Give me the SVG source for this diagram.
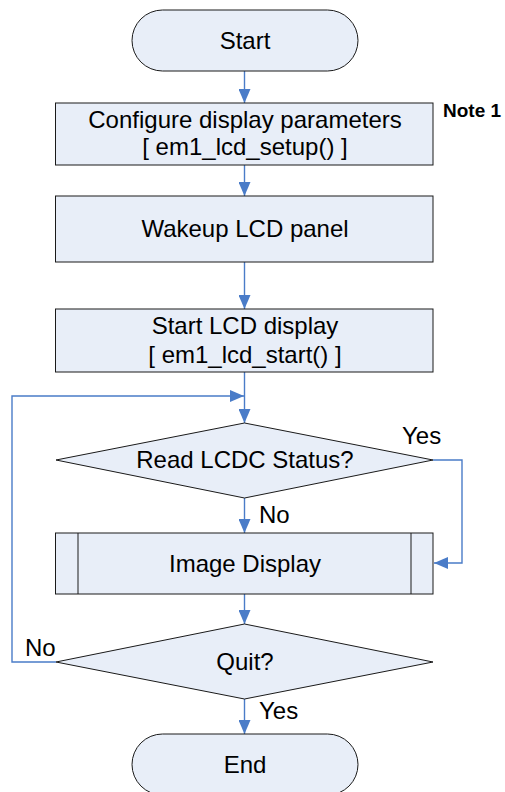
<svg xmlns="http://www.w3.org/2000/svg" width="505" height="792" viewBox="0 0 505 792">
  <style>
    .shape { fill: #E8EEF8; stroke: #1a1a1a; stroke-width: 1; }
    .edge { fill: none; stroke: #4A7CC8; stroke-width: 1.4; }
    text { font-family: "Liberation Sans", Arial, sans-serif; font-size: 24px; fill: #000; }
    .c { text-anchor: middle; }
    .note { font-weight: bold; font-size: 19px; }
  </style>
  <defs>
    <marker id="arrow" viewBox="0 0 14 12" refX="14" refY="6" markerWidth="14" markerHeight="12" markerUnits="userSpaceOnUse" orient="auto">
      <path d="M0,0 L14,6 L0,12 Z" fill="#4A7CC8"/>
    </marker>
  </defs>
  <rect width="505" height="792" fill="#fff"/>

  <!-- connectors -->
  <g id="connectors">
    <line class="edge" x1="244.5" y1="71" x2="244.5" y2="103" marker-end="url(#arrow)"/>
    <line class="edge" x1="244.5" y1="165" x2="244.5" y2="196" marker-end="url(#arrow)"/>
    <line class="edge" x1="244.5" y1="262" x2="244.5" y2="309" marker-end="url(#arrow)"/>
    <line class="edge" x1="244.5" y1="372" x2="244.5" y2="423" marker-end="url(#arrow)"/>
    <line class="edge" x1="244.5" y1="498" x2="244.5" y2="533" marker-end="url(#arrow)"/>
    <line class="edge" x1="244.5" y1="594" x2="244.5" y2="624" marker-end="url(#arrow)"/>
    <line class="edge" x1="244.5" y1="699" x2="244.5" y2="734" marker-end="url(#arrow)"/>
    <polyline class="edge" points="433,460 462,460 462,563 434,563" marker-end="url(#arrow)"/>
    <polyline class="edge" points="56,662 12,662 12,396 244,396" marker-end="url(#arrow)"/>
    <text x="402" y="444">Yes</text>
    <text x="259" y="523">No</text>
    <text x="25" y="656">No</text>
    <text x="259" y="719">Yes</text>
  </g>

  <g id="start">
    <rect class="shape" x="132" y="10" width="226" height="61" rx="30.5" ry="30.5"/>
    <text class="c" x="245" y="49">Start</text>
  </g>

  <g id="configure">
    <rect class="shape" x="55.5" y="103" width="377.5" height="62"/>
    <text class="c" x="245" y="128">Configure display parameters</text>
    <text class="c" x="245" y="155">[ em1_lcd_setup() ]</text>
  </g>

  <g id="note1">
    <text class="note" x="443" y="117">Note 1</text>
  </g>

  <g id="wakeup">
    <rect class="shape" x="55.5" y="196" width="377.5" height="66"/>
    <text class="c" x="245" y="237">Wakeup LCD panel</text>
  </g>

  <g id="start-display">
    <rect class="shape" x="55.5" y="309" width="377.5" height="63"/>
    <text class="c" x="245" y="334">Start LCD display</text>
    <text class="c" x="245" y="363">[ em1_lcd_start() ]</text>
  </g>

  <g id="read-status">
    <polygon class="shape" points="244.5,423 433,460 244.5,498 56,460"/>
    <text class="c" x="245" y="468">Read LCDC Status?</text>
  </g>

  <g id="image-display">
    <rect class="shape" x="55.5" y="533" width="377.5" height="61"/>
    <line x1="78" y1="533" x2="78" y2="594" stroke="#1a1a1a" stroke-width="1"/>
    <line x1="411" y1="533" x2="411" y2="594" stroke="#1a1a1a" stroke-width="1"/>
    <text class="c" x="245" y="572">Image Display</text>
  </g>

  <g id="quit">
    <polygon class="shape" points="244.5,624 433,662 244.5,699 56,662"/>
    <text class="c" x="245" y="670">Quit?</text>
  </g>

  <g id="end">
    <rect class="shape" x="132" y="734" width="226" height="61" rx="30.5" ry="30.5"/>
    <text class="c" x="245" y="773">End</text>
  </g>
</svg>
